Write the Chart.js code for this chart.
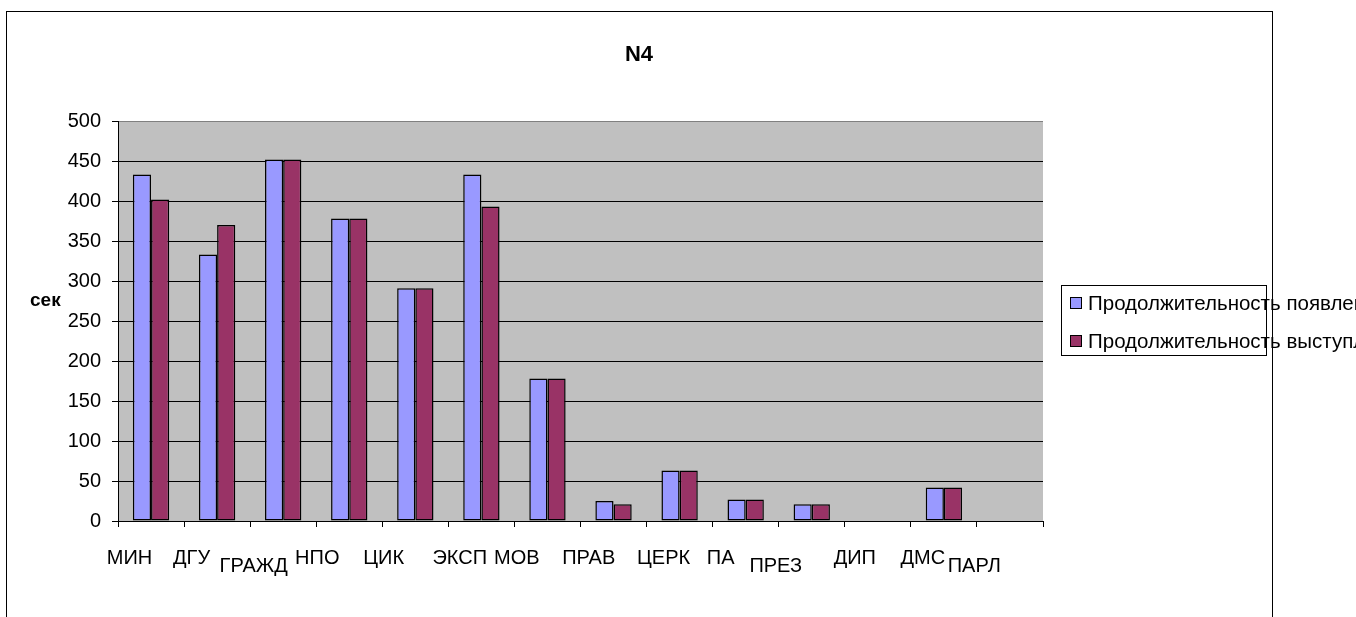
<!DOCTYPE html>
<html>
<head>
<meta charset="utf-8">
<script src="https://cdn.jsdelivr.net/npm/chart.js@4/dist/chart.umd.min.js"></script>
<style>
  html, body { margin: 0; padding: 0; background: #fff; overflow: hidden; }
  canvas { display: block; }
</style>
</head>
<body>
<canvas id="c" width="1356" height="617"></canvas>
<script>
// ---- data ----
const categories = ['МИН','ДГУ','ГРАЖД','НПО','ЦИК','ЭКСП','МОВ','ПРАВ','ЦЕРК','ПА','ПРЕЗ','ДИП','ДМС','ПАРЛ'];
const seriesNames = ['Продолжительность появления', 'Продолжительность выступления'];
const appearance = [433, 333, 452, 378, 291, 433, 178, 25, 63, 27, 21, 0, 42, 0];
const speech     = [402, 370, 452, 378, 291, 393, 178, 21, 63, 27, 21, 0, 42, 0];
const yTicks = [0, 50, 100, 150, 200, 250, 300, 350, 400, 450, 500];
const chartTitle = 'N4';
const yAxisTitle = 'сек';

// ---- layout (label placement like the original) ----
const labelDx  = [-21.5, -25.5, -29.5, -32, -31.7, -21.6, -30.7, -24.8, -16, -25, -36, -23, -21, -35.7];
const labelRow = [0, 0, 1, 0, 0, 0, 0, 0, 0, 0, 1, 0, 0, 1];

const FONT = '"Liberation Sans", Arial, sans-serif';
const colors = ['#9999FF', '#993366'];

const decor = {
  id: 'decor',
  beforeDraw(chart) {
    const ctx = chart.ctx, a = chart.chartArea;
    ctx.save();
    ctx.fillStyle = '#fff';
    ctx.fillRect(0, 0, chart.width, chart.height);
    ctx.strokeStyle = '#000';
    ctx.lineWidth = 1;
    ctx.strokeRect(6.5, 11.5, 1266, 700);
    ctx.fillStyle = '#C0C0C0';
    ctx.fillRect(a.left, a.top, a.right - a.left, a.bottom - a.top);
    ctx.restore();
  },
  afterDraw(chart) {
    const ctx = chart.ctx, xs = chart.scales.x;
    ctx.save();
    ctx.fillStyle = '#000';
    // title
    ctx.font = 'bold 22px ' + FONT;
    ctx.textAlign = 'center';
    ctx.textBaseline = 'alphabetic';
    ctx.fillText(chartTitle, 639, 61);
    // y axis title
    ctx.font = 'bold 19px ' + FONT;
    ctx.textAlign = 'left';
    ctx.fillText(yAxisTitle, 30, 306);
    // category labels
    ctx.font = '20px ' + FONT;
    ctx.textAlign = 'center';
    categories.forEach((c, i) => {
      const x = xs.getPixelForValue(i) + labelDx[i];
      const y = labelRow[i] ? 572 : 564;
      ctx.fillText(c, x, y);
    });
    // legend
    const lx = 1061.5, ly = 285.5, lw = 205, lh = 70;
    ctx.strokeStyle = '#000';
    ctx.lineWidth = 1;
    ctx.strokeRect(lx, ly, lw, lh);
    ctx.font = '20.5px ' + FONT;
    ctx.textAlign = 'left';
    chart.data.datasets.forEach((ds, i) => {
      const cy = 303 + i * 38;
      ctx.fillStyle = ds.backgroundColor;
      ctx.fillRect(1070, cy - 6, 12, 12);
      ctx.strokeRect(1070.5, cy - 5.5, 11, 11);
      ctx.fillStyle = '#000';
      ctx.fillText(ds.label, 1088, cy + 7);
    });
    ctx.restore();
  }
};

new Chart(document.getElementById('c'), {
  type: 'bar',
  data: {
    labels: categories,
    datasets: [
      { label: seriesNames[0], data: appearance, backgroundColor: colors[0], borderColor: '#000', borderWidth: 1.5, borderSkipped: false },
      { label: seriesNames[1], data: speech, backgroundColor: colors[1], borderColor: '#000', borderWidth: 1.5, borderSkipped: false }
    ]
  },
  options: {
    responsive: false,
    animation: false,
    devicePixelRatio: 1,
    layout: { padding: { left: 0, right: 313, top: 121, bottom: 0 } },
    plugins: { legend: { display: false }, title: { display: false }, tooltip: { enabled: false } },
    datasets: { bar: { categoryPercentage: 0.55, barPercentage: 1.0 } },
    scales: {
      x: {
        grid: { display: true, offset: true, drawOnChartArea: false, drawTicks: true, tickLength: 6, color: '#000', lineWidth: 1 },
        border: { display: true, color: '#000', width: 1 },
        ticks: { display: false },
        afterFit(scale) { scale.height = 96; }
      },
      y: {
        min: 0, max: 500,
        afterBuildTicks(scale) { scale.ticks = yTicks.map(v => ({ value: v })); },
        grid: {
          color: ctx => (ctx.tick && ctx.tick.value === 500) ? '#808080' : '#000',
          lineWidth: 1, tickLength: 6, drawTicks: true,
          tickColor: '#000'
        },
        border: { display: true, color: '#000', width: 1 },
        ticks: { color: '#000', font: { family: FONT, size: 20 }, padding: 11 },
        afterFit(scale) { scale.width = 118; }
      }
    }
  },
  plugins: [decor]
});
</script>
</body>
</html>
